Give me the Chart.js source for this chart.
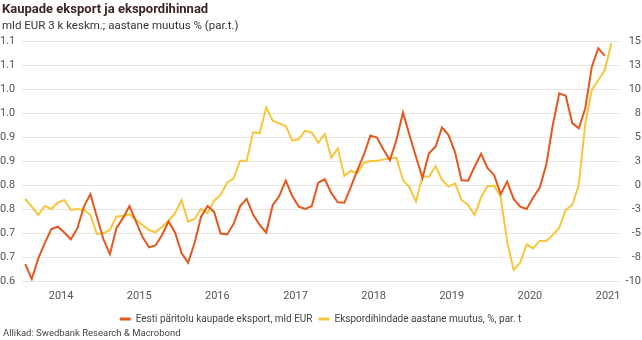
<!DOCTYPE html>
<html>
<head>
<meta charset="utf-8">
<script src="https://cdn.jsdelivr.net/npm/chart.js@4"></script>
<style>
body { margin: 0; background: #fff; font-family: Roboto, sans-serif; }
#wrap { position: relative; width: 642px; height: 340px; overflow: hidden; }
#wrap canvas { position: absolute; left: 0; top: 0; }
.txt { position: absolute; white-space: nowrap; line-height: normal; }
#title { left: 2px; top: 1px; font-size: 13px; font-weight: bold; color: #3d2624; }
#sub { left: 2px; top: 18px; font-size: 11.5px; color: #333; }
#src { left: 3px; top: 327px; font-size: 9.5px; color: #444; }
</style>
</head>
<body>
<div id="wrap">
  <canvas id="chart" width="642" height="340"></canvas>
  <div class="txt" id="title">Kaupade eksport ja ekspordihinnad</div>
  <div class="txt" id="sub">mld EUR 3 k keskm.; aastane muutus % (par.t.)</div>
  <div class="txt" id="src">Allikad: Swedbank Research &amp; Macrobond</div>
</div>
<script>
// Monthly data, Jan 2014 onwards
const years = ['2014', '2015', '2016', '2017', '2018', '2019', '2020', '2021'];

// Eesti päritolu kaupade eksport, mld EUR (3 k keskm.), Jan 2014 - Jun 2021
const exportEur = [
    0.635, 0.604, 0.647, 0.679, 0.708, 0.713, 0.701, 0.687, 0.710, 0.755, 0.781, 0.734,
    0.687, 0.656, 0.710, 0.731, 0.756, 0.724, 0.692, 0.670, 0.674, 0.696, 0.724, 0.701,
    0.658, 0.638, 0.679, 0.734, 0.756, 0.744, 0.699, 0.697, 0.719, 0.756, 0.771, 0.738,
    0.717, 0.701, 0.758, 0.777, 0.809, 0.777, 0.755, 0.750, 0.756, 0.805, 0.812, 0.783,
    0.764, 0.763, 0.796, 0.831, 0.863, 0.903, 0.899, 0.874, 0.852, 0.894, 0.951, 0.904,
    0.859, 0.815, 0.866, 0.880, 0.920, 0.904, 0.868, 0.810, 0.809, 0.838, 0.865, 0.835,
    0.821, 0.781, 0.807, 0.771, 0.755, 0.750, 0.774, 0.794, 0.842, 0.924, 0.991, 0.986,
    0.929, 0.918, 0.960, 1.046, 1.085, 1.069
];

// Ekspordihindade aastane muutus, % (par. t), Jan 2014 - Jul 2021
const priceChange = [
    -1.46, -2.26, -3.13, -2.19, -2.50, -1.84, -1.56, -2.60, -2.50, -2.60, -3.10, -5.10,
    -5.03, -4.69, -3.30, -3.20, -3.05, -3.65, -4.17, -4.69, -4.93, -4.34, -3.72, -2.95,
    -1.56, -3.82, -3.54, -2.50, -2.95, -1.63, -1.04, 0.24, 0.69, 2.53, 2.53, 5.49,
    5.38, 8.09, 6.70, 6.42, 6.15, 4.62, 4.79, 5.66, 5.45, 4.40, 5.31, 2.84,
    3.82, 0.94, 1.49, 1.22, 2.32, 2.50, 2.50, 2.67, 2.78, 2.84, 0.52, -0.24,
    -1.74, 0.90, 0.87, 1.98, 0.52, -0.17, 0.17, -1.56, -2.08, -3.13, -1.28, -0.10,
    -0.07, -1.22, -5.90, -8.85, -8.10, -6.18, -6.60, -5.80, -5.83, -5.21, -4.45, -2.60,
    -2.08, 0.00, 6.42, 9.90, 10.94, 11.98, 14.76
];

const orange = '#e4571d';
const yellow = '#f6c63c';
const gridColor = '#e9e2dd';
const tickColor = '#555';

Chart.defaults.font.family = 'Roboto, sans-serif';
Chart.defaults.color = tickColor;

// Function to turn a plain value list into monthly {x, y} points
function toPoints(values) {
    return values.map((v, i) => ({ x: i, y: v }));
}

// Round half away from zero, like the source tool does
function roundLabel(v, digits) {
    const f = Math.pow(10, digits);
    const r = Math.sign(v) * Math.round(Math.abs(v) * f + 1e-6) / f;
    return r.toFixed(digits);
}

new Chart(document.getElementById('chart').getContext('2d'), {
    type: 'line',
    data: {
        datasets: [{
            label: 'Eesti päritolu kaupade eksport, mld EUR',
            data: toPoints(exportEur),
            borderColor: orange,
            backgroundColor: orange,
            borderWidth: 2,
            pointRadius: 0,
            tension: 0,
            yAxisID: 'y'
        }, {
            label: 'Ekspordihindade aastane muutus, %, par. t',
            data: toPoints(priceChange),
            borderColor: yellow,
            backgroundColor: yellow,
            borderWidth: 2,
            pointRadius: 0,
            tension: 0,
            yAxisID: 'y2'
        }]
    },
    options: {
        responsive: false,
        animation: false,
        layout: { padding: { top: 41, left: 0, right: 1, bottom: 6 } },
        plugins: {
            tooltip: { enabled: false },
            legend: {
                position: 'bottom',
                labels: {
                    usePointStyle: true,
                    pointStyle: 'line',
                    pointStyleWidth: 11,
                    boxHeight: 10,
                    padding: 6,
                    font: { size: 10 },
                    color: '#444',
                    generateLabels: chart => Chart.defaults.plugins.legend.labels.generateLabels(chart)
                        .map(item => ({ ...item, lineWidth: 3 }))
                }
            }
        },
        scales: {
            x: {
                type: 'linear',
                min: -0.5,
                max: 91.33,
                grid: { display: false, drawTicks: false },
                border: { display: false },
                afterBuildTicks: scale => {
                    scale.ticks = years.map((y, i) => ({ value: 5.5 + 12 * i }));
                },
                afterFit: scale => { scale.height = 27; },
                ticks: {
                    autoSkip: false,
                    maxRotation: 0,
                    padding: 9,
                    font: { size: 11 },
                    callback: (value, index) => years[index]
                }
            },
            y: {
                position: 'left',
                min: 0.6,
                max: 1.1,
                grid: { color: gridColor, lineWidth: 1, drawTicks: false },
                border: { display: false },
                afterFit: scale => { scale.width = 22; },
                afterBuildTicks: scale => {
                    const t = [];
                    for (let i = 0; i <= 10; i++) t.push({ value: 0.6 + i * 0.05 });
                    scale.ticks = t;
                },
                ticks: {
                    crossAlign: 'far',
                    font: { size: 11 },
                    callback: value => roundLabel(value, 1)
                }
            },
            y2: {
                position: 'right',
                min: -10,
                max: 15,
                grid: { display: false, drawTicks: false },
                border: { display: false },
                afterFit: scale => { scale.width = 21; },
                afterBuildTicks: scale => {
                    const t = [];
                    for (let i = 0; i <= 10; i++) t.push({ value: -10 + i * 2.5 });
                    scale.ticks = t;
                },
                ticks: {
                    crossAlign: 'far',
                    font: { size: 11 },
                    callback: value => roundLabel(value, 0)
                }
            }
        }
    }
});
</script>
</body>
</html>
